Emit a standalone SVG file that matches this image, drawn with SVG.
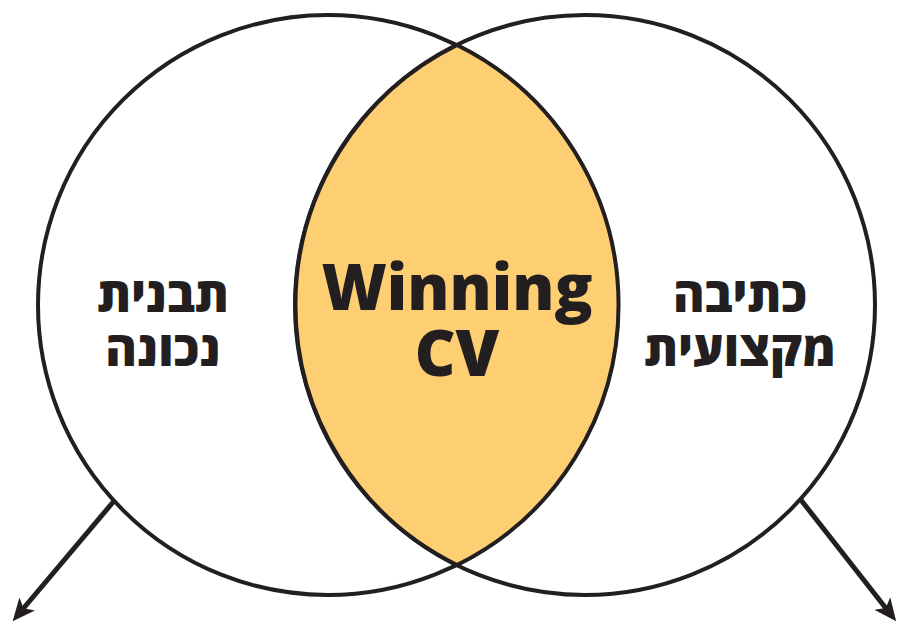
<svg xmlns="http://www.w3.org/2000/svg" width="901" height="626" viewBox="0 0 901 626">
<style>
.ring{fill:none;stroke:#231f20;stroke-width:4}
.lens{fill:#fdcf72;stroke:#231f20;stroke-width:4}
.conn{stroke:#231f20;stroke-width:5;fill:none}
.lbl{font-family:"Open Sans","Noto Sans","DejaVu Sans",sans-serif;font-weight:800;fill:#231f20;text-anchor:middle}
</style>
<defs>
<marker id="ah" viewBox="0 0 10 10" refX="7" refY="5" markerWidth="4.5" markerHeight="4.5" orient="auto" markerUnits="strokeWidth">
<path d="M0,0.5 L10,5 L0,9.5 L2.5,5 Z" fill="#231f20"/>
</marker>
</defs>
<rect width="901" height="626" fill="#ffffff"/>
<g id="left-circle">
<circle class="ring" cx="328" cy="305" r="290"/>
</g>
<g id="right-circle">
<circle class="ring" cx="585" cy="305" r="290"/>
</g>
<g id="intersection">
<path class="lens" d="M457,45 A290,290 0 0 0 457,565 A290,290 0 0 0 457,45 Z"/>
<text class="lbl" x="457" y="310" font-size="63">Winning</text>
<text class="lbl" x="457" y="376" font-size="63">CV</text>
</g>
<g id="left-label">
<text class="lbl" x="163" y="312" font-size="48">תבנית</text>
<text class="lbl" x="163" y="366" font-size="48">נכונה</text>
</g>
<g id="right-label">
<text class="lbl" x="740" y="312" font-size="48">כתיבה</text>
<text class="lbl" x="740" y="366" font-size="48">מקצועית</text>
</g>
<g id="connectors">
<line class="conn" x1="114" y1="501" x2="17" y2="616" marker-end="url(#ah)"/>
<line class="conn" x1="801" y1="500" x2="892" y2="616" marker-end="url(#ah)"/>
</g>
</svg>
